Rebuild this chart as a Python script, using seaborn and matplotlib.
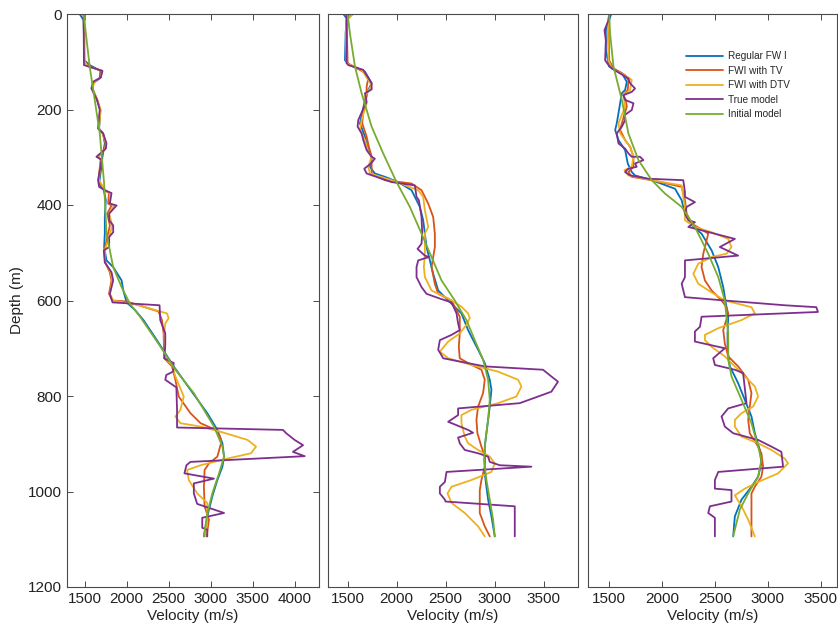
import pandas as pd
import matplotlib
matplotlib.use("Agg")
import matplotlib.pyplot as plt
import seaborn as sns

# each trace: (depth in m, velocity in m/s)
model_names = ["Regular FW I", "FWI with TV", "FWI with DTV", "True model", "Initial model"]
model_colors = ["#0072BD", "#D95319", "#EDB120", "#7E2F8E", "#77AC30"]

# ---- panel 1
p1_regular = [(0, 1440), (13, 1488), (97, 1496), (107, 1560), (119, 1688), (135, 1680), (145, 1600),
              (159, 1600), (180, 1648), (201, 1688), (222, 1680), (240, 1672), (250, 1720), (271, 1740),
              (299, 1712), (320, 1700), (355, 1672), (369, 1728), (390, 1752), (425, 1740), (460, 1740),
              (488, 1732), (516, 1760), (530, 1840), (558, 1940), (579, 1960), (604, 2000), (620, 2100),
              (641, 2200), (683, 2360), (738, 2560), (787, 2760), (836, 2960), (871, 3080), (899, 3140),
              (927, 3160), (948, 3140), (976, 3080), (1010, 3020), (1052, 2960), (1094, 2920)]
p1_tv = [(0, 1488), (100, 1496), (110, 1560), (119, 1700), (133, 1690), (142, 1610), (156, 1590),
         (180, 1650), (201, 1685), (240, 1665), (250, 1715), (271, 1750), (282, 1745), (299, 1660),
         (305, 1690), (348, 1665), (369, 1735), (375, 1790), (397, 1780), (401, 1820), (418, 1770),
         (443, 1800), (467, 1770), (495, 1735), (520, 1745), (541, 1800), (558, 1820), (586, 1790),
         (600, 1830), (602, 2000), (623, 2380), (641, 2420), (669, 2440), (721, 2448), (738, 2540),
         (766, 2580), (801, 2620), (836, 2760), (857, 2880), (871, 3060), (885, 3112), (896, 3128),
         (927, 3080), (941, 2980), (955, 2928), (990, 2920), (1031, 2928), (1059, 2980), (1094, 2952)]
p1_dtv = [(0, 1500), (100, 1500), (110, 1540), (119, 1710), (133, 1690), (142, 1620), (156, 1590),
          (180, 1650), (201, 1690), (240, 1670), (250, 1715), (271, 1755), (282, 1745), (299, 1665),
          (305, 1695), (348, 1670), (369, 1745), (375, 1800), (397, 1800), (401, 1850), (418, 1790),
          (443, 1830), (467, 1790), (495, 1740), (520, 1740), (541, 1810), (558, 1830), (586, 1800),
          (600, 1840), (609, 2120), (627, 2480), (637, 2500), (648, 2460), (669, 2448), (721, 2460),
          (735, 2540), (759, 2580), (801, 2680), (829, 2640), (843, 2580), (857, 2640), (864, 2880),
          (875, 3120), (892, 3440), (906, 3540), (920, 3480), (931, 3200), (945, 2880), (955, 2720),
          (976, 2740), (1004, 2840), (1024, 2960), (1059, 2960), (1094, 2940)]
p1_true = [(0, 1488), (107, 1492), (119, 1712), (133, 1692), (142, 1600), (156, 1580), (180, 1648),
           (201, 1680), (215, 1672), (240, 1660), (250, 1720), (271, 1760), (282, 1752), (299, 1640),
           (305, 1700), (320, 1688), (348, 1660), (362, 1672), (369, 1740), (375, 1820), (397, 1800),
           (401, 1880), (418, 1792), (432, 1792), (443, 1840), (457, 1840), (467, 1792), (488, 1792),
           (495, 1728), (520, 1740), (541, 1820), (558, 1840), (586, 1800), (604, 1832), (610, 2392),
           (641, 2400), (669, 2460), (693, 2460), (721, 2448), (731, 2560), (749, 2552), (756, 2472),
           (766, 2460), (782, 2592), (829, 2600), (866, 2600), (871, 3860), (878, 3900), (892, 4000),
           (903, 4100), (917, 3980), (926, 4120), (938, 2760), (945, 2712), (962, 2688), (973, 3040),
           (983, 2800), (1004, 2800), (1026, 2840), (1045, 3160), (1055, 2900), (1076, 2900),
           (1080, 2960), (1094, 2960)]
p1_initial = [(0, 1488), (110, 1560), (180, 1620), (250, 1680), (355, 1732), (460, 1760), (530, 1840),
              (572, 1940), (607, 2040), (634, 2160), (696, 2400), (745, 2580), (794, 2800), (864, 3040),
              (906, 3140), (927, 3160), (962, 3100), (1004, 3020), (1046, 2960), (1094, 2920)]

# ---- panel 2
p2_regular = [(0, 1456), (9, 1490), (41, 1480), (97, 1473), (107, 1524), (121, 1677), (145, 1745),
              (159, 1711), (180, 1677), (229, 1626), (257, 1677), (278, 1704), (299, 1745), (320, 1728),
              (334, 1778), (341, 1880), (352, 2016), (369, 2152), (404, 2237), (432, 2271), (460, 2288),
              (488, 2305), (516, 2339), (544, 2373), (579, 2424), (600, 2526), (627, 2661), (662, 2729),
              (703, 2831), (731, 2899), (766, 2950), (787, 2967), (822, 2950), (850, 2933), (878, 2916),
              (906, 2899), (934, 2899), (962, 2899), (990, 2916), (1017, 2933), (1052, 2967), (1094, 3001)]
p2_tv = [(0, 1541), (13, 1490), (103, 1500), (121, 1660), (135, 1711), (152, 1694), (173, 1694),
         (201, 1660), (229, 1649), (257, 1694), (278, 1717), (299, 1745), (334, 1745), (348, 1880),
         (355, 2152), (369, 2254), (397, 2322), (425, 2373), (460, 2390), (488, 2390), (509, 2373),
         (530, 2356), (565, 2390), (586, 2424), (600, 2560), (634, 2644), (669, 2644), (697, 2634),
         (721, 2644), (731, 2729), (745, 2865), (766, 2899), (794, 2882), (822, 2831), (850, 2814),
         (878, 2824), (906, 2865), (927, 2899), (948, 2899), (976, 2865), (997, 2848), (1045, 2848),
         (1073, 2899), (1094, 2950)]
p2_dtv = [(0, 1558), (13, 1490), (41, 1480), (103, 1490), (117, 1643), (149, 1745), (173, 1677),
          (187, 1694), (222, 1643), (243, 1626), (264, 1677), (289, 1711), (299, 1745), (320, 1711),
          (334, 1728), (348, 1948), (369, 2220), (383, 2271), (411, 2288), (446, 2322), (460, 2288),
          (502, 2288), (530, 2278), (551, 2288), (579, 2356), (596, 2526), (613, 2661), (627, 2729),
          (637, 2746), (651, 2712), (669, 2644), (686, 2526), (707, 2441), (721, 2526), (735, 2763),
          (749, 3035), (766, 3239), (780, 3273), (801, 3222), (815, 3035), (829, 2763), (840, 2661),
          (857, 2661), (885, 2695), (899, 2729), (913, 2831), (927, 2950), (941, 3001), (959, 2967),
          (976, 2763), (990, 2560), (1004, 2519), (1024, 2560), (1045, 2695), (1073, 2831), (1094, 2899)]
p2_true = [(0, 1490), (103, 1490), (107, 1507), (117, 1660), (145, 1745), (158, 1745), (166, 1677),
           (184, 1694), (194, 1670), (222, 1609), (236, 1602), (250, 1643), (264, 1660), (285, 1694),
           (299, 1745), (303, 1778), (313, 1738), (324, 1670), (334, 1694), (352, 1948), (359, 2186),
           (383, 2203), (390, 2227), (425, 2254), (460, 2261), (481, 2254), (492, 2213), (506, 2288),
           (509, 2329), (516, 2220), (530, 2203), (551, 2203), (572, 2254), (586, 2305), (596, 2441),
           (604, 2560), (627, 2611), (648, 2627), (662, 2644), (672, 2560), (683, 2441), (703, 2424),
           (721, 2475), (738, 2899), (745, 3493), (759, 3578), (770, 3646), (791, 3578), (815, 3256),
           (826, 2627), (840, 2627), (854, 2526), (871, 2729), (877, 2780), (887, 2627), (899, 2644),
           (913, 2695), (920, 2831), (927, 2933), (938, 2950), (945, 3052), (948, 3375), (959, 2509),
           (980, 2492), (990, 2441), (1004, 2441), (1017, 2492), (1021, 2499), (1031, 3205), (1094, 3205)]
p2_initial = [(0, 1500), (41, 1524), (110, 1575), (166, 1643), (236, 1745), (292, 1863), (352, 1999),
              (404, 2135), (460, 2254), (509, 2356), (558, 2458), (599, 2590), (641, 2712), (683, 2797),
              (724, 2882), (766, 2933), (808, 2950), (850, 2933), (892, 2906), (934, 2892), (976, 2916),
              (1017, 2950), (1059, 2984), (1094, 3001)]

# ---- panel 3
p3_regular = [(0, 1519), (13, 1500), (34, 1469), (76, 1469), (110, 1500), (124, 1620), (142, 1667),
              (159, 1651), (166, 1620), (229, 1572), (243, 1557), (264, 1588), (285, 1651), (313, 1676),
              (331, 1714), (338, 1745), (348, 1903), (366, 2123), (390, 2186), (418, 2217), (446, 2296),
              (460, 2374), (495, 2469), (530, 2532), (572, 2579), (614, 2610), (634, 2626), (669, 2620),
              (703, 2620), (738, 2642), (773, 2720), (808, 2783), (843, 2846), (878, 2878), (913, 2925),
              (941, 2940), (969, 2909), (990, 2846), (1017, 2752), (1052, 2689), (1094, 2673)]
p3_tv = [(0, 1500), (13, 1494), (97, 1500), (114, 1541), (128, 1651), (138, 1682), (159, 1676),
         (170, 1635), (180, 1657), (194, 1667), (229, 1620), (243, 1604), (264, 1651), (278, 1698),
         (299, 1730), (320, 1730), (331, 1682), (341, 1714), (348, 1903), (362, 2186), (390, 2217),
         (418, 2233), (439, 2280), (453, 2390), (460, 2437), (474, 2422), (502, 2390), (530, 2374),
         (558, 2406), (579, 2469), (600, 2563), (614, 2610), (627, 2626), (662, 2579), (690, 2594),
         (717, 2626), (738, 2720), (766, 2815), (794, 2846), (822, 2830), (850, 2815), (878, 2830),
         (906, 2909), (920, 2940), (948, 2956), (969, 2940), (990, 2878), (1004, 2846), (1031, 2846),
         (1094, 2846)]
p3_dtv = [(0, 1500), (13, 1494), (41, 1487), (97, 1494), (114, 1525), (131, 1667), (138, 1714),
          (159, 1698), (170, 1635), (194, 1651), (229, 1588), (250, 1604), (264, 1651), (278, 1698),
          (299, 1730), (320, 1714), (327, 1645), (338, 1682), (348, 1903), (359, 2186), (383, 2201),
          (404, 2217), (432, 2217), (446, 2311), (457, 2469), (471, 2626), (488, 2657), (502, 2610),
          (509, 2469), (523, 2343), (544, 2296), (565, 2343), (583, 2469), (600, 2594), (614, 2846),
          (627, 2878), (641, 2752), (658, 2532), (672, 2406), (683, 2406), (697, 2469), (717, 2594),
          (752, 2752), (780, 2878), (801, 2909), (822, 2862), (836, 2752), (850, 2689), (864, 2689),
          (885, 2752), (899, 2909), (913, 3035), (931, 3161), (941, 3192), (962, 3098), (980, 2909),
          (994, 2783), (1008, 2689), (1031, 2752), (1059, 2815), (1094, 2878)]
p3_true = [(0, 1500), (13, 1494), (34, 1456), (55, 1469), (97, 1462), (107, 1494), (114, 1525),
           (135, 1682), (145, 1698), (156, 1745), (163, 1714), (170, 1635), (180, 1651), (187, 1730),
           (201, 1714), (212, 1645), (222, 1651), (236, 1620), (250, 1572), (271, 1588), (282, 1651),
           (292, 1682), (299, 1714), (299, 1792), (306, 1824), (313, 1745), (320, 1761), (324, 1682),
           (331, 1651), (338, 1698), (345, 1871), (348, 2201), (373, 2217), (383, 2217), (394, 2311),
           (404, 2233), (418, 2217), (432, 2249), (436, 2311), (446, 2249), (453, 2374), (471, 2689),
           (488, 2547), (506, 2720), (516, 2217), (551, 2217), (565, 2186), (593, 2217), (600, 2594),
           (610, 3161), (614, 3459), (624, 3475), (634, 2374), (655, 2359), (665, 2311), (686, 2311),
           (700, 2594), (721, 2484), (735, 2500), (745, 2689), (752, 2767), (815, 2799), (826, 2626),
           (843, 2563), (864, 2594), (878, 2673), (892, 2909), (906, 3035), (917, 3129), (948, 3145),
           (959, 2532), (976, 2500), (994, 2500), (997, 2657), (1021, 2657), (1031, 2453), (1045, 2437),
           (1055, 2500), (1094, 2500)]
p3_initial = [(0, 1500), (41, 1509), (110, 1541), (180, 1620), (250, 1682), (306, 1777), (348, 1903),
              (376, 2028), (404, 2186), (446, 2311), (502, 2437), (551, 2532), (600, 2594), (669, 2626),
              (724, 2626), (759, 2657), (808, 2752), (857, 2846), (906, 2909), (934, 2940), (969, 2909),
              (1004, 2815), (1038, 2736), (1094, 2673)]

panels = [
    [p1_regular, p1_tv, p1_dtv, p1_true, p1_initial],
    [p2_regular, p2_tv, p2_dtv, p2_true, p2_initial],
    [p3_regular, p3_tv, p3_dtv, p3_true, p3_initial],
]
x_limits = [(1290, 4290), (1300, 3850), (1300, 3655)]
x_ticks = [[1500, 2000, 2500, 3000, 3500, 4000], [1500, 2000, 2500, 3000, 3500], [1500, 2000, 2500, 3000, 3500]]
y_ticks = [0, 200, 400, 600, 800, 1000, 1200]

sns.set_theme(style="white")
plt.rcParams["font.family"] = ["Liberation Sans", "DejaVu Sans"]
plt.rcParams["axes.edgecolor"] = "#4a4a4a"
plt.rcParams["axes.linewidth"] = 0.8

fig = plt.figure(figsize=(8.38, 6.34), dpi=100)
boxes = [(67, 252), (328, 250), (588, 249)]

for i, traces in enumerate(panels):
    left, width = boxes[i]
    ax = fig.add_axes([left / 838, 1 - 587 / 634, width / 838, 573 / 634])
    rows = []
    for name, trace in zip(model_names, traces):
        for k, (d, v) in enumerate(trace):
            rows.append({"model": name, "order": k, "depth": d, "velocity": v})
    df = pd.DataFrame(rows)
    sns.lineplot(data=df, x="velocity", y="depth", hue="model", hue_order=model_names,
                 palette=model_colors, sort=False, estimator=None, linewidth=1.3,
                 legend=(i == 2), ax=ax)
    ax.set_xlim(*x_limits[i])
    ax.set_ylim(1200, 0)
    ax.set_xticks(x_ticks[i])
    ax.tick_params(axis="both", direction="in", length=4, width=0.7, color="#4a4a4a",
                   labelsize=11, labelcolor="#222222", top=True, bottom=True)
    if i == 0:
        ax.set_yticks(y_ticks)
        ax.tick_params(axis="y", left=True, right=True)
        ax.set_ylabel("Depth (m)", fontsize=11, color="#222222", labelpad=3)
    else:
        ax.set_yticks([])
        ax.set_ylabel("")
    ax.set_xlabel("Velocity (m/s)", fontsize=11, color="#222222", labelpad=2)
    if i == 2:
        ax.legend(frameon=False, loc="upper left", bbox_to_anchor=(0.395, 0.935),
                  fontsize=7.2, handlelength=3.7, handletextpad=0.5, labelspacing=0.45,
                  borderpad=0, borderaxespad=0)

fig.savefig("out.png", dpi=100)
